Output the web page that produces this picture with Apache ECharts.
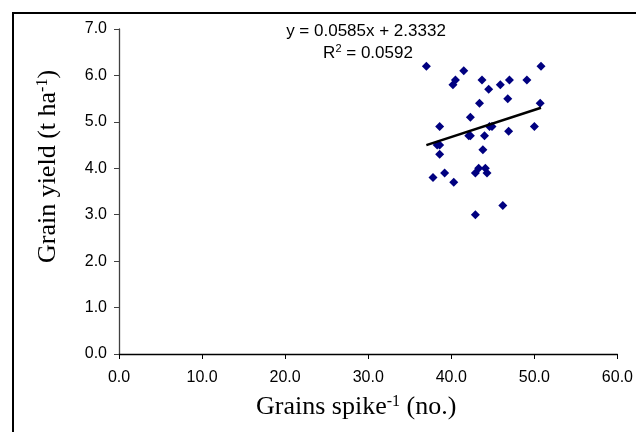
<!DOCTYPE html>
<html>
<head>
<meta charset="utf-8">
<script src="https://cdn.jsdelivr.net/npm/echarts@6/dist/echarts.min.js"></script>
<style>
  html, body { margin: 0; padding: 0; background: #fff; }
  #container { width: 636px; height: 432px; }
</style>
</head>
<body>
<div id="container"></div>
<script>
// grains per spike (x) vs grain yield t/ha (y)
const grainsSpike = [37.0, 41.5, 40.5, 40.2, 43.7, 44.5, 45.9, 47.0, 49.1, 50.8,
  46.8, 43.4, 50.7, 42.3, 38.6, 44.6, 44.9, 46.9, 50.0,
  42.1, 42.3, 44.0, 38.3, 38.6, 38.6, 43.8, 43.3, 44.1,
  42.9, 44.3, 37.8, 39.2, 40.3, 46.2, 42.9];
const grainYield = [6.2, 6.1, 5.9, 5.8, 5.9, 5.7, 5.8, 5.9, 5.9, 6.2,
  5.5, 5.4, 5.4, 5.1, 4.9, 4.9, 4.9, 4.8, 4.9,
  4.7, 4.7, 4.7, 4.5, 4.5, 4.3, 4.4, 4.0, 4.0,
  3.9, 3.9, 3.8, 3.9, 3.7, 3.2, 3.0];
// linear trend shown on the chart
const trendSlope = 0.0585;
const trendIntercept = 2.3332;
const trendR2 = 0.0592;
const trendX = [37.0, 50.8];
const xTicks = [0, 10, 20, 30, 40, 50, 60];
const yTicks = [0, 1, 2, 3, 4, 5, 6, 7];

const points = grainsSpike.map((x, i) => [x, grainYield[i]]);
const trendLine = trendX.map(x => [x, trendSlope * x + trendIntercept]);

const dom = document.getElementById('container');
const myChart = echarts.init(dom, null, { renderer: 'canvas' });

const tickFont = { fontFamily: 'Liberation Sans', fontSize: 16, color: '#000' };
const titleFont = {
  fontFamily: 'Liberation Serif', fontSize: 26, color: '#000',
  rich: { sup: { fontFamily: 'Liberation Serif', fontSize: 16, verticalAlign: 'top', lineHeight: 26 } }
};

const option = {
  animation: false,
  grid: { left: 119, right: 12, top: 29, bottom: 78 },
  xAxis: {
    type: 'value',
    min: xTicks[0],
    max: xTicks[xTicks.length - 1],
    interval: 10,
    name: 'Grains spike{sup|-1} (no.)',
    nameLocation: 'middle',
    nameGap: 40,
    nameTextStyle: Object.assign({ padding: [0, 24, 0, 0] }, titleFont),
    axisLine: { lineStyle: { color: '#000', width: 1.3 } },
    axisTick: { inside: false, length: 5, lineStyle: { color: '#000' } },
    axisLabel: Object.assign({ margin: 16, formatter: v => v.toFixed(1) }, tickFont),
    splitLine: { show: false }
  },
  yAxis: {
    type: 'value',
    min: yTicks[0],
    max: yTicks[yTicks.length - 1],
    interval: 1,
    name: 'Grain yield (t ha{sup|-1})',
    nameLocation: 'middle',
    nameGap: 58,
    nameTextStyle: Object.assign({ padding: [0, 0, 0, 50] }, titleFont),
    axisLine: { show: true, lineStyle: { color: '#404040', width: 1.3 } },
    axisTick: { show: true, inside: false, length: 5, lineStyle: { color: '#404040' } },
    axisLabel: Object.assign({ margin: 12, formatter: v => v.toFixed(1) }, tickFont),
    splitLine: { show: false }
  },
  graphic: [
    {
      type: 'rect',
      shape: { x: 13, y: 13, width: 700, height: 500 },
      style: { fill: 'none', stroke: '#000', lineWidth: 2 },
      silent: true
    },
    {
      type: 'text',
      x: 366, y: 31,
      style: {
        text: 'y = ' + trendSlope + 'x + ' + trendIntercept,
        fontFamily: 'Liberation Sans', fontSize: 17, fill: '#000',
        align: 'center', verticalAlign: 'middle'
      }
    },
    {
      type: 'text',
      x: 368, y: 53,
      style: {
        text: 'R{s|2} = ' + trendR2,
        fontFamily: 'Liberation Sans', fontSize: 17, fill: '#000',
        align: 'center', verticalAlign: 'middle',
        rich: { s: { fontFamily: 'Liberation Sans', fontSize: 11, verticalAlign: 'top', lineHeight: 19 } }
      }
    }
  ],
  series: [
    {
      name: 'Grain yield',
      type: 'scatter',
      symbol: 'diamond',
      symbolSize: 9,
      itemStyle: { color: '#000080', opacity: 1 },
      data: points,
      z: 3
    },
    {
      name: 'Linear trend',
      type: 'line',
      data: trendLine,
      symbol: 'none',
      lineStyle: { color: '#000', width: 2.5 },
      z: 4
    }
  ]
};

myChart.setOption(option);
window.addEventListener('resize', myChart.resize);
</script>
</body>
</html>
